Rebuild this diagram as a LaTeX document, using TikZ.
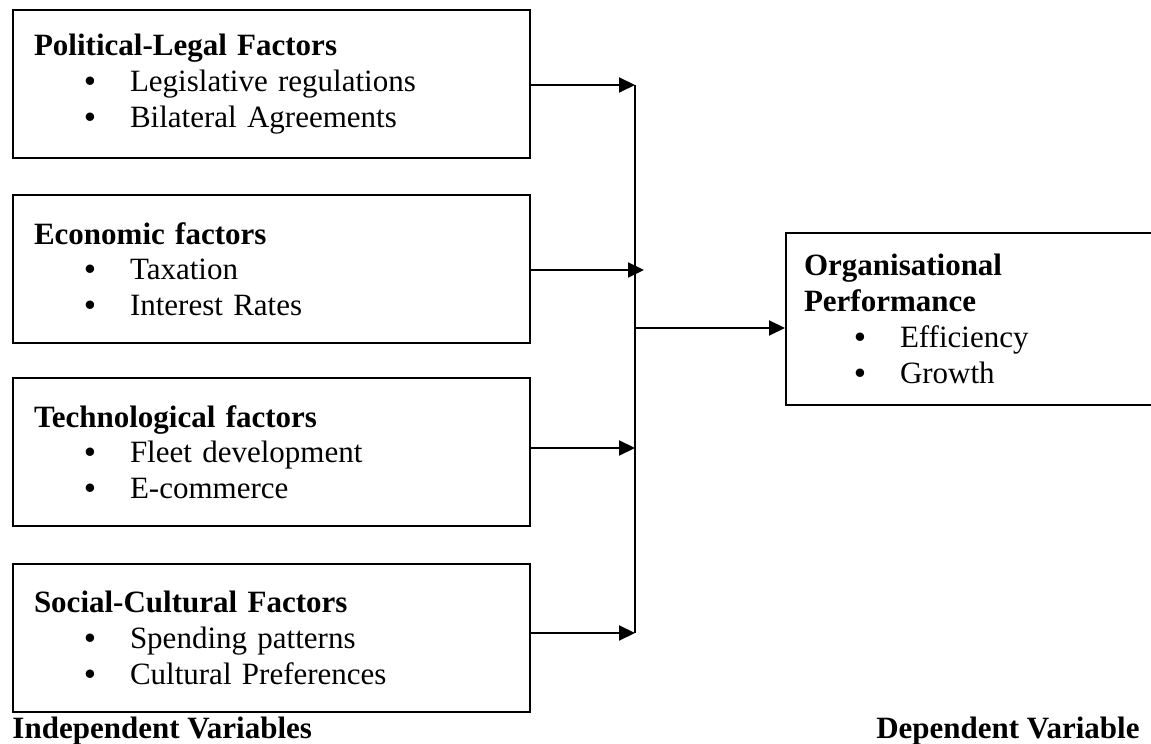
\documentclass[tikz,border=0pt]{standalone}
\usepackage{fontspec}
\setmainfont{Liberation Serif}
\usepackage{tikz}
\usetikzlibrary{arrows.meta, positioning, calc}

\newcommand{\factoritem}[1]{\hspace*{22.4pt}\makebox[0pt]{\textbf{\textbullet}}\hspace*{16pt}#1}

\begin{document}
\begin{tikzpicture}[
    x=0.4pt, y=-0.4pt,
    factor/.style={rectangle, draw, line width=0.8pt, anchor=north west, text width=190pt, inner xsep=8.4pt, minimum height=59.2pt, align=left, font=\fontsize{12.4}{14.3}\selectfont},
    arrow/.style={-{Triangle[length=6.4pt, width=6pt]}, line width=0.8pt},
    caption/.style={font=\fontsize{12.4}{14.3}\selectfont\bfseries, inner sep=0pt}
]
\useasboundingbox (0,0) rectangle (1151,744);

% independent variables
\node[factor] (polit) at (12,9) {\textbf{Political-Legal Factors}\\ \factoritem{Legislative regulations}\\ \factoritem{Bilateral Agreements}};
\node[factor] (econ) at (12,194) {\textbf{Economic factors}\\ \factoritem{Taxation}\\ \factoritem{Interest Rates}};
\node[factor] (tech) at (12,377) {\textbf{Technological factors}\\ \factoritem{Fleet development}\\ \factoritem{E-commerce}};
\node[factor] (social) at (12,563) {\textbf{Social-Cultural Factors}\\ \factoritem{Spending patterns}\\ \factoritem{Cultural Preferences}};

% dependent variable
\node[factor, text width=137pt, inner xsep=7.2pt, minimum height=68.8pt] (perf) at (785,232) {\textbf{Organisational}\\ \textbf{Performance}\\ \factoritem{Efficiency}\\ \factoritem{Growth}};

% collecting line
\coordinate (b1) at (635,85);
\coordinate (b2) at (644,270);
\coordinate (b3) at (635,448);
\coordinate (b4) at (635,633);
\coordinate (join) at (635,328);

\draw[line width=0.8pt] (b1) -- (b4);
\draw[arrow] (polit.east |- b1) -- (b1);
\draw[arrow] (econ.east |- b2) -- (b2);
\draw[arrow] (tech.east |- b3) -- (b3);
\draw[arrow] (social.east |- b4) -- (b4);
\draw[arrow] (join) -- (join -| perf.west);

\node[caption, anchor=base west] (indep) at (12,738) {Independent Variables};
\node[caption, anchor=base east] (dep) at (1140,738) {Dependent Variable};

\end{tikzpicture}
\end{document}
